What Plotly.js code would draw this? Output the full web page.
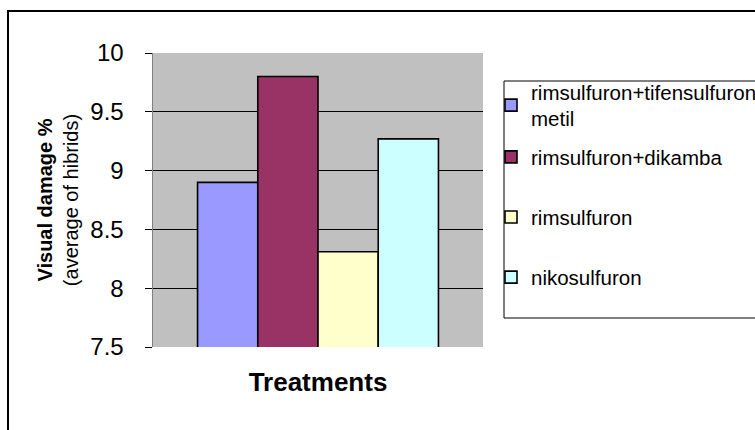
<!DOCTYPE html>
<html>
<head>
<meta charset="utf-8">
<script src="https://cdn.plot.ly/plotly-3.0.1.min.js"></script>
<style>html,body{margin:0;padding:0;background:#fff;}#chart{width:755px;height:430px;}</style>
</head>
<body>
<div id="chart"></div>
<script>
var category = ["Treatments"];
var seriesNames = ["rimsulfuron+tifensulfuron<br>metil", "rimsulfuron+dikamba", "rimsulfuron", "nikosulfuron"];
var seriesValues = [8.90, 9.80, 8.31, 9.27];
var seriesColors = ["#9999FF", "#993366", "#FFFFCC", "#CCFFFF"];
var yTicks = [7.5, 8, 8.5, 9, 9.5, 10];
var yTickLabels = ["7.5", "8", "8.5", "9", "9.5", "10"];

var font = "Liberation Sans, Arial, sans-serif";
var traces = seriesNames.map(function (name, i) {
  return {
    type: "bar",
    x: category,
    y: [seriesValues[i]],
    name: name,
    legend: i === 0 ? "legend" : "legend2",
    legendgroup: "g" + i,
    marker: { color: seriesColors[i], line: { color: "#000", width: 1.6 } },
    hoverinfo: "name+y"
  };
});

// pixel -> paper helpers (plot area: x 153..483, y 53..347)
function px(x) { return (x - 153) / 330; }
function py(y) { return (347 - y) / 294; }

var legendCommon = {
  xanchor: "left", yanchor: "top",
  bgcolor: "rgba(0,0,0,0)",
  borderwidth: 0,
  font: { size: 20.5, family: font },
  traceorder: "grouped",
  tracegroupgap: 30.5,
  itemwidth: 30
};

var layout = {
  width: 755, height: 430,
  margin: { l: 153, r: 272, t: 53, b: 83, autoexpand: false },
  paper_bgcolor: "#ffffff",
  plot_bgcolor: "#C0C0C0",
  barmode: "group",
  bargap: 0.27,
  bargroupgap: 0,
  showlegend: true,
  font: { family: font, color: "#000" },
  xaxis: {
    showticklabels: false,
    ticks: "",
    showline: false,
    title: { text: "<b>Treatments</b>", font: { size: 26, family: font }, standoff: 25 }
  },
  yaxis: {
    range: [7.5, 10],
    tickvals: yTicks,
    ticktext: yTickLabels,
    ticks: "outside",
    ticklen: 7,
    tickcolor: "#000",
    ticklabelstandoff: 16,
    tickfont: { size: 24, family: font },
    showgrid: true,
    gridcolor: "#000",
    gridwidth: 1,
    showline: true,
    linecolor: "#808080",
    linewidth: 1.5,
    zeroline: false,
    title: { text: "<b>Visual damage %</b><br>(average of hibrids)", font: { size: 20, family: font }, standoff: 6 }
  },
  legend: Object.assign({}, legendCommon, { x: px(491), y: py(72) }),
  legend2: Object.assign({}, legendCommon, { x: px(491), y: py(137) }),
  shapes: [
    { type: "rect", xref: "paper", yref: "paper",
      x0: px(8), x1: px(800), y0: py(460), y1: py(11),
      line: { color: "#000", width: 2 }, fillcolor: "rgba(0,0,0,0)", layer: "below" },
    { type: "rect", xref: "paper", yref: "paper",
      x0: px(504), x1: px(800), y0: py(318), y1: py(81),
      line: { color: "#000", width: 1 }, fillcolor: "#ffffff", layer: "below" }
  ]
};

Plotly.newPlot("chart", traces, layout, { displayModeBar: false, staticPlot: true });
</script>
</body>
</html>
